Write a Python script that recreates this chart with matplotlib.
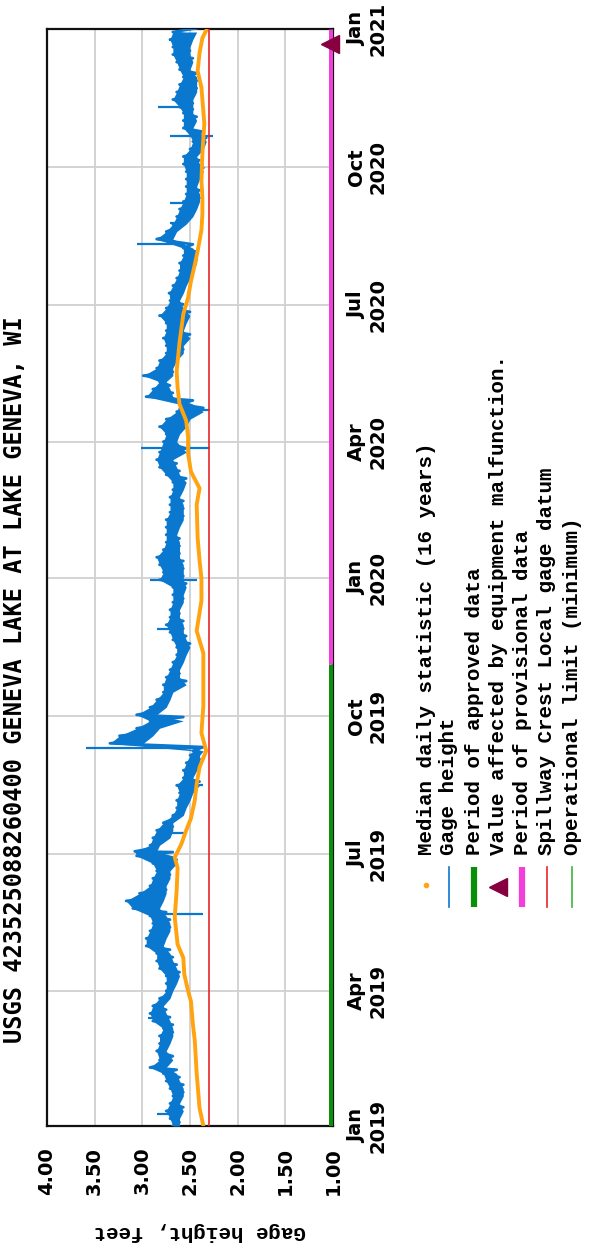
import numpy as np
import matplotlib
matplotlib.use('Agg')
import matplotlib.pyplot as plt

# days since 2019-01-01
gage_day = [0, 5, 10, 15, 20, 25, 30, 35, 39, 44, 50, 55, 60, 65, 70, 75, 80, 85, 90, 95, 100, 105, 110, 115, 120,
            125, 130, 135, 140, 145, 150, 155, 160, 165, 170, 175, 180, 183, 187, 192, 197, 202, 207, 212, 217, 222,
            227, 232, 237, 242, 247, 250, 255, 260, 265, 270, 274, 279, 284, 289, 294, 299, 304, 309, 314, 319, 324,
            329, 334, 339, 344, 349, 354, 359, 364, 369, 374, 379, 384, 389, 394, 399, 404, 409, 414, 419, 424, 429,
            434, 439, 444, 449, 456, 461, 466, 471, 476, 481, 486, 491, 496, 500, 505, 510, 515, 520, 525, 530, 535,
            540, 545, 550, 555, 560, 565, 570, 575, 580, 585, 591, 596, 601, 606, 611, 616, 621, 626, 631, 636, 641,
            646, 651, 656, 660, 665, 670, 675, 679, 684, 689, 694, 699, 704, 709, 714, 719, 724, 729]
gage_lo = [2.61, 2.61, 2.57, 2.61, 2.57, 2.57, 2.61, 2.64, 2.75, 2.68, 2.75, 2.71, 2.68, 2.68, 2.71, 2.75, 2.78, 2.71,
           2.68, 2.64, 2.61, 2.64, 2.68, 2.71, 2.78, 2.75, 2.71, 2.71, 2.75, 2.82, 2.78, 2.75, 2.75, 2.71, 2.71, 2.64,
           2.68, 2.85, 2.82, 2.71, 2.68, 2.68, 2.57, 2.54, 2.50, 2.47, 2.40, 2.47, 2.43, 2.40, 2.40, 2.36, 2.99, 2.89,
           2.82, 2.57, 2.85, 2.75, 2.71, 2.68, 2.54, 2.61, 2.61, 2.57, 2.54, 2.50, 2.54, 2.57, 2.57, 2.61, 2.61, 2.57,
           2.57, 2.54, 2.57, 2.57, 2.57, 2.61, 2.61, 2.61, 2.64, 2.61, 2.57, 2.57, 2.57, 2.61, 2.57, 2.54, 2.61, 2.64,
           2.68, 2.54, 2.64, 2.61, 2.54, 2.50, 2.36, 2.47, 2.68, 2.71, 2.75, 2.68, 2.68, 2.64, 2.57, 2.57, 2.50, 2.57,
           2.54, 2.50, 2.57, 2.61, 2.57, 2.54, 2.50, 2.47, 2.43, 2.43, 2.47, 2.68, 2.64, 2.54, 2.47, 2.43, 2.40, 2.40,
           2.43, 2.40, 2.36, 2.40, 2.43, 2.36, 2.33, 2.36, 2.47, 2.43, 2.47, 2.47, 2.47, 2.43, 2.43, 2.43, 2.50, 2.47,
           2.50, 2.50, 2.47, 2.43]
gage_hi = [2.68, 2.71, 2.75, 2.71, 2.68, 2.71, 2.75, 2.78, 2.92, 2.82, 2.85, 2.82, 2.82, 2.78, 2.89, 2.92, 2.89, 2.82,
           2.75, 2.75, 2.75, 2.82, 2.85, 2.85, 2.96, 2.96, 2.92, 2.89, 2.92, 3.10, 3.17, 3.03, 2.92, 2.89, 2.85, 2.89,
           3.06, 3.08, 2.92, 2.89, 2.85, 2.78, 2.68, 2.64, 2.64, 2.61, 2.64, 2.57, 2.57, 2.54, 2.50, 2.47, 3.34, 3.24,
           3.06, 2.92, 3.06, 2.92, 2.85, 2.78, 2.78, 2.75, 2.71, 2.68, 2.64, 2.64, 2.68, 2.71, 2.75, 2.71, 2.71, 2.68,
           2.68, 2.68, 2.82, 2.78, 2.82, 2.85, 2.78, 2.75, 2.75, 2.75, 2.75, 2.71, 2.71, 2.71, 2.68, 2.68, 2.75, 2.82,
           2.85, 2.82, 2.78, 2.75, 2.82, 2.75, 2.64, 2.61, 2.96, 2.89, 2.82, 2.99, 2.85, 2.82, 2.75, 2.75, 2.78, 2.75,
           2.75, 2.82, 2.75, 2.71, 2.72, 2.68, 2.64, 2.61, 2.61, 2.57, 2.57, 2.85, 2.75, 2.68, 2.64, 2.61, 2.57, 2.54,
           2.54, 2.54, 2.54, 2.57, 2.57, 2.50, 2.47, 2.50, 2.57, 2.57, 2.57, 2.61, 2.68, 2.64, 2.61, 2.57, 2.61, 2.64,
           2.68, 2.68, 2.71, 2.68]

# short excursions: (day, from, to)
spike_day = [8, 72, 141, 195, 227, 252, 331, 364, 452, 477, 588, 602, 615, 660, 679, 724]
spike_from = [2.71, 2.85, 2.80, 2.80, 2.55, 2.40, 2.65, 2.92, 3.01, 2.55, 2.55, 2.60, 2.50, 2.71, 2.84, 2.72]
spike_to = [2.85, 2.94, 2.36, 2.54, 2.36, 3.59, 2.85, 2.43, 2.29, 2.29, 3.06, 2.71, 2.71, 2.26, 2.55, 2.55]

med_day = [0, 12, 35, 57, 68, 83, 90, 101, 112, 121, 139, 157, 172, 179, 188, 197, 205, 217, 228, 239, 250, 262, 280,
           300, 315, 330, 350, 365, 377, 392, 414, 425, 436, 448, 459, 470, 481, 492, 503, 522, 541, 552, 563, 574,
           583, 597, 608, 619, 630, 648, 668, 692, 703, 715, 725, 730]
med_val = [2.36, 2.40, 2.43, 2.45, 2.47, 2.49, 2.52, 2.56, 2.57, 2.63, 2.66, 2.64, 2.63, 2.66, 2.59, 2.54, 2.49, 2.45,
           2.43, 2.40, 2.33, 2.38, 2.36, 2.36, 2.36, 2.43, 2.38, 2.38, 2.40, 2.42, 2.43, 2.40, 2.49, 2.52, 2.52, 2.54,
           2.61, 2.63, 2.64, 2.61, 2.57, 2.52, 2.49, 2.45, 2.42, 2.38, 2.37, 2.37, 2.38, 2.37, 2.35, 2.38, 2.42, 2.40,
           2.37, 2.33]

spillway = 2.30
op_limit = 1.00
approved_end = 308
malfunction_day = 721

gage_ticks = [4.0, 3.5, 3.0, 2.5, 2.0, 1.5, 1.0]
gage_labels = ['4.00', '3.50', '3.00', '2.50', '2.00', '1.50', '1.00']
date_ticks = [0, 90, 181, 273, 365, 456, 547, 639, 731]
date_labels = ['Jan\n2019', 'Apr\n2019', 'Jul\n2019', 'Oct\n2019', 'Jan\n2020',
               'Apr\n2020', 'Jul\n2020', 'Oct\n2020', 'Jan\n2021']

title = 'USGS 423525088260400 GENEVA LAKE AT LAKE GENEVA, WI'
legend_labels = ['Median daily statistic (16 years)', 'Gage height', 'Period of approved data',
                 'Value affected by equipment malfunction.', 'Period of provisional data',
                 'Spillway Crest Local gage datum', 'Operational limit (minimum)']

BLUE = '#0a78cf'
ORANGE = '#ffa311'
GREEN = '#0a8f0a'
MAGENTA = '#f23fd9'
RED = '#e8262a'
MAROON = '#860040'
LGREEN = '#3cb43c'

fig = plt.figure(figsize=(5.94, 12.5), dpi=100)
W, H = 594, 1250
ax = fig.add_axes([47 / W, (H - 1126) / H, 286 / W, 1097 / H])

# gage height: filled band between readings plus the strokes themselves
ax.fill_betweenx(gage_day, gage_lo, gage_hi, color=BLUE, lw=0, zorder=3)
zx, zy = [], []
for d, lo, hi in zip(gage_day, gage_lo, gage_hi):
    zx += [hi, lo]
    zy += [d, d + 2.5]
ax.plot(zx, zy, color=BLUE, lw=2.0, zorder=3)
ax.hlines(spike_day, spike_from, spike_to, color=BLUE, lw=1.6, zorder=3)

ax.plot(med_val, med_day, color=ORANGE, lw=2.8, zorder=4)

ax.axvline(spillway, color=RED, lw=1.2, zorder=5)
ax.axvline(op_limit, color=LGREEN, lw=1.0, zorder=5)
ax.plot([1.026, 1.026], [0, approved_end], color=GREEN, lw=3.6, solid_capstyle='butt', zorder=6)
ax.plot([1.026, 1.026], [approved_end, 731], color=MAGENTA, lw=3.6, solid_capstyle='butt', zorder=6)
ax.plot([1.03], [malfunction_day], marker='<', ms=13, color=MAROON, clip_on=False, zorder=7)

ax.set_xlim(4.0, 1.0)
ax.set_ylim(0, 731)
ax.set_xticks(gage_ticks)
ax.set_xticklabels(gage_labels, rotation=90, fontsize=14, fontweight='bold', ha='center', va='top')
ax.yaxis.tick_right()
ax.set_yticks(date_ticks)
ax.set_yticklabels(date_labels, rotation=90, fontsize=14, fontweight='bold', ha='left', va='center',
                   multialignment='center')
ax.tick_params(axis='both', length=0)
ax.tick_params(axis='x', pad=15)
ax.tick_params(axis='y', pad=10)
ax.grid(True, color='#d0d0d0', lw=1.3)
ax.set_axisbelow(True)
for s in ax.spines.values():
    s.set_linewidth(1.6)
    s.set_color('#111111')

fig.text(15 / W, 1 - 680 / H, title, rotation=90, ha='center', va='center',
         fontsize=17, fontweight='bold', family='DejaVu Sans Mono')
fig.text(200 / W, 1 - 1232 / H, 'Gage height, feet', rotation=180, ha='center', va='center',
         fontsize=15, fontweight='bold', family='Liberation Mono')

# legend, drawn in pixel coordinates
lax = fig.add_axes([0, 0, 1, 1])
lax.set_xlim(0, W)
lax.set_ylim(H, 0)
lax.axis('off')
cols = [426, 449, 474, 498, 522, 547, 572]
lax.plot([cols[0]], [885], 'o', ms=3, color=ORANGE)
lax.plot([cols[1], cols[1]], [867, 907], color=BLUE, lw=1.2)
lax.plot([cols[2], cols[2]], [867, 907], color=GREEN, lw=4.5, solid_capstyle='butt')
lax.plot([cols[3]], [887], marker='<', ms=13, color=MAROON)
lax.plot([cols[4], cols[4]], [867, 907], color=MAGENTA, lw=4.5, solid_capstyle='butt')
lax.plot([cols[5], cols[5]], [867, 907], color=RED, lw=1.2)
lax.plot([cols[6], cols[6]], [867, 907], color=LGREEN, lw=1.2)
for c, lab in zip(cols, legend_labels):
    lax.text(c, 855, lab, rotation=90, rotation_mode='anchor', ha='left', va='center',
             fontsize=15, fontweight='bold', family='Liberation Mono')

fig.savefig('out.png', dpi=100)
